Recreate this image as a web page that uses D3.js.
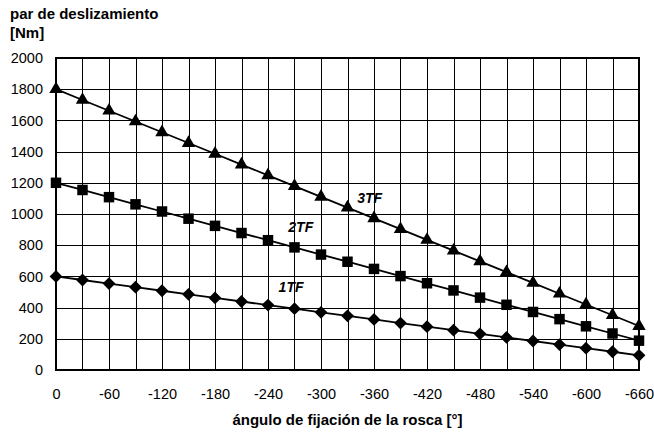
<!DOCTYPE html>
<html lang="es">
<head>
    <meta charset="UTF-8">
    <title>par de deslizamiento</title>
    <script src="https://d3js.org/d3.v7.min.js"></script>
    <style>
        body { margin: 0; background: #fff; }
        svg { font-family: "Liberation Sans", Arial, sans-serif; }
        .grid line { stroke: #000; stroke-width: 1; shape-rendering: crispEdges; }
        .tick-label { font-size: 14.5px; fill: #000; font-family: "Liberation Sans", Arial, sans-serif; }
        .title { font-size: 15px; font-weight: bold; }
        .series-label { font-size: 14px; font-weight: bold; font-style: italic; }
    </style>
</head>
<body>
<div id="chart"></div>
<script>
    // angle values (x) and torque values for each thread type
    const angles = [0, -30, -60, -90, -120, -150, -180, -210, -240, -270, -300, -330,
                    -360, -390, -420, -450, -480, -510, -540, -570, -600, -630, -660];
    const tf3 = [1800, 1731, 1662, 1593, 1524, 1455, 1386, 1317, 1248, 1179, 1110, 1041,
                 972, 903, 834, 765, 696, 627, 558, 489, 420, 351, 282];
    const tf2 = [1200, 1154, 1108, 1062, 1016, 970, 924, 878, 832, 786, 740, 694,
                 648, 602, 556, 510, 464, 418, 372, 326, 280, 234, 188];
    const tf1 = [600, 577, 554, 531, 508, 485, 462, 439, 416, 393, 370, 347,
                 324, 301, 278, 255, 232, 209, 186, 163, 140, 117, 94];
    const xTicks = [0, -60, -120, -180, -240, -300, -360, -420, -480, -540, -600, -660];
    const yTicks = [0, 200, 400, 600, 800, 1000, 1200, 1400, 1600, 1800, 2000];

    // diamond = square turned 45 degrees
    const series = [
        { name: "3TF", values: tf3, symbol: d3.symbolTriangle, size: 78, rot: 0, labelAt: -341, labelVal: 1070 },
        { name: "2TF", values: tf2, symbol: d3.symbolSquare, size: 110, rot: 0, labelAt: -263, labelVal: 885 },
        { name: "1TF", values: tf1, symbol: d3.symbolSquare, size: 82, rot: 45, labelAt: -252, labelVal: 500 }
    ];

    const W = 654, H = 432;
    const margin = { top: 58, right: 15, bottom: 62, left: 56 };
    const width = W - margin.left - margin.right;
    const height = H - margin.top - margin.bottom;

    const svg = d3.select("#chart").append("svg")
        .attr("width", W)
        .attr("height", H);

    const g = svg.append("g")
        .attr("transform", `translate(${margin.left},${margin.top})`);

    const x = d3.scaleLinear().domain([0, -660]).range([0, width]);
    const y = d3.scaleLinear().domain([0, 2000]).range([height, 0]);

    // grid
    const grid = g.append("g").attr("class", "grid");
    grid.selectAll(".v").data(angles).enter().append("line")
        .attr("x1", d => Math.round(x(d)) + 0.5).attr("x2", d => Math.round(x(d)) + 0.5)
        .attr("y1", 0).attr("y2", height);
    grid.selectAll(".h").data(yTicks).enter().append("line")
        .attr("y1", d => Math.round(y(d)) + 0.5).attr("y2", d => Math.round(y(d)) + 0.5)
        .attr("x1", 0).attr("x2", width);

    // frame
    g.append("rect")
        .attr("x", 0).attr("y", 0)
        .attr("width", width).attr("height", height)
        .attr("fill", "none").attr("stroke", "#000").attr("stroke-width", 2);

    // axes (labels only)
    const fmt = d => String(d);
    const xAxis = g.append("g")
        .attr("transform", `translate(0,${height})`)
        .call(d3.axisBottom(x).tickValues(xTicks).tickFormat(fmt).tickSize(0).tickPadding(19));
    xAxis.select(".domain").remove();
    xAxis.attr("font-size", null).attr("font-family", null);
    xAxis.selectAll("text").attr("class", "tick-label");

    const yAxis = g.append("g")
        .call(d3.axisLeft(y).tickValues(yTicks).tickFormat(fmt).tickSize(0).tickPadding(13));
    yAxis.select(".domain").remove();
    yAxis.attr("font-size", null).attr("font-family", null);
    yAxis.selectAll("text").attr("class", "tick-label");

    // lines and markers
    const line = d3.line()
        .x((d, i) => x(angles[i]))
        .y(d => y(d));

    series.forEach(s => {
        g.append("path")
            .datum(s.values)
            .attr("fill", "none")
            .attr("stroke", "#000")
            .attr("stroke-width", 1.8)
            .attr("d", line);

        g.selectAll(null)
            .data(s.values)
            .enter().append("path")
            .attr("d", d3.symbol().type(s.symbol).size(s.size))
            .attr("transform", (d, i) => `translate(${x(angles[i])},${y(d)}) rotate(${s.rot})`)
            .attr("fill", "#000");

        g.append("text")
            .attr("class", "series-label")
            .attr("x", x(s.labelAt))
            .attr("y", y(s.labelVal))
            .text(s.name);
    });

    // titles
    svg.append("text").attr("class", "title").attr("x", 10).attr("y", 19).text("par de deslizamiento");
    svg.append("text").attr("class", "title").attr("x", 10).attr("y", 38).text("[Nm]");
    svg.append("text").attr("class", "title")
        .attr("x", margin.left + width / 2)
        .attr("y", 425)
        .attr("text-anchor", "middle")
        .text("ángulo de fijación de la rosca [°]");
</script>
</body>
</html>
